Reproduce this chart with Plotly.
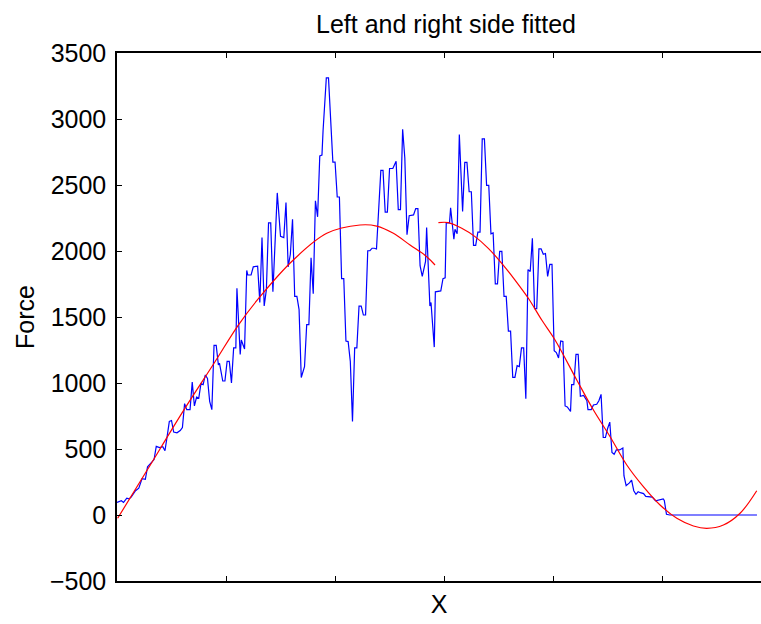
import plotly.graph_objects as go

# Measured force (blue)
force_x = [0, 4, 6, 9, 11, 13, 17, 20, 23, 26, 28, 32, 34, 36, 39, 42, 44, 46, 48, 50,
           52, 55, 58, 60, 62, 64, 67, 69, 71, 73, 75, 77, 79, 81, 83, 85, 87, 89, 91, 93,
           94, 97, 99, 101, 103, 105, 107, 109, 110, 113, 114, 117, 119, 120, 123, 125, 129, 131, 133, 135,
           137, 139, 141, 143, 146, 147, 150, 153, 155, 157, 159, 161, 163, 165, 167, 169, 172, 174, 176, 178,
           180, 182, 184, 186, 188, 189, 192, 194, 198, 200, 202, 204, 206, 208, 210, 212, 214, 216, 218, 220,
           222, 224, 226, 228, 230, 232, 234, 236, 238, 240, 242, 244, 246, 248, 250, 253, 256, 258, 260, 262,
           264, 266, 268, 272, 274, 276, 278, 280, 283, 284, 287, 288, 291, 292, 295, 297, 299, 301, 302, 305,
           306, 309, 310, 312, 314, 317, 319, 321, 323, 325, 327, 329, 331, 333, 335, 337, 339, 341, 343, 345,
           347, 349, 351, 353, 355, 357, 359, 361, 363, 365, 367, 369, 371, 373, 375, 377, 379, 381, 383, 385,
           387, 389, 391, 393, 395, 397, 399, 401, 403, 405, 407, 409, 411, 413, 416, 417, 419, 421, 423, 425,
           428, 431, 432, 435, 437, 440, 442, 444, 446, 448, 450, 452, 454, 456, 458, 461, 464, 465, 467, 470,
           472, 474, 476, 478, 480, 483, 485, 489, 491, 494, 497, 501, 502, 504, 507, 587]
force_y = [95, 108, 95, 127, 122, 135, 184, 203, 276, 271, 365, 406, 420, 520, 510, 517, 487, 595, 709, 716,
           628, 623, 640, 663, 844, 798, 798, 1007, 826, 893, 886, 995, 988, 1061, 1035, 861, 798, 1285, 1285, 1136,
           1150, 1015, 1015, 1164, 1164, 1001, 1266, 1266, 1718, 1217, 1326, 1258, 1853, 1818, 1818, 1880, 1885, 1610, 2102, 1583,
           1705, 2213, 2213, 1691, 2206, 2440, 2111, 2102, 2367, 1880, 1975, 2240, 1656, 1656, 1556, 1042, 1123, 1442, 1442, 1948,
           1677, 2381, 2259, 2720, 2727, 2909, 3311, 3311, 2674, 2674, 2409, 2409, 1791, 1791, 1318, 1314, 1164, 709, 1266, 1266,
           1583, 1583, 1515, 1515, 2002, 2002, 2021, 2021, 2015, 2327, 2611, 2611, 2295, 2295, 2625, 2625, 2679, 2314, 2314, 2922,
           2705, 2124, 2267, 2273, 2321, 2321, 1889, 1808, 1921, 2178, 1583, 1610, 1272, 1691, 1698, 1698, 1791, 1797, 2213, 2213,
           2327, 2089, 2164, 2131, 2882, 2300, 2671, 2671, 2449, 2449, 2043, 2043, 2143, 2143, 2849, 2849, 2497, 2497, 2130, 2137,
           1751, 1751, 1997, 1997, 1656, 1656, 1393, 1393, 1042, 1042, 1131, 1124, 1266, 1266, 880, 1859, 1845, 2097, 1564, 1564,
           2016, 2016, 1975, 1981, 1808, 1899, 1899, 1245, 1231, 1190, 1318, 1314, 826, 819, 785, 988, 988, 1217, 1217, 899,
           906, 866, 798, 798, 833, 839, 866, 914, 587, 587, 655, 704, 474, 460, 493, 493, 508, 298, 222, 243,
           265, 184, 157, 176, 169, 162, 141, 135, 135, 108, 114, 122, 110, 5, 0, 0]

# Left-side fit (red)
left_fit_x = [0.6, 28.7, 59.4, 89.9, 111.3, 131.2, 161.7, 192.4, 222.9, 238.2, 253.5, 268.8, 284.1, 291.7]
left_fit_y = [-25, 354, 770, 1161, 1439, 1654, 1932, 2134, 2197, 2189, 2134, 2045, 1957, 1894]

# Right-side fit (red)
right_fit_x = [294.8, 303.9, 316.2, 328.4, 340.6, 352.9, 365.1, 377.3, 389.6, 401.8, 421.7, 437.0,
               452.3, 467.6, 482.8, 498.1, 513.5, 528.7, 541.0, 556.2, 571.5, 586.8]
right_fit_y = [2215, 2215, 2172, 2109, 2020, 1907, 1780, 1642, 1477, 1326, 1023, 795,
               593, 379, 215, 76, -25, -83, -101, -76, 13, 184]

x_ticks = [0, 100, 200, 300, 400, 500]
y_ticks = [-500, 0, 500, 1000, 1500, 2000, 2500, 3000, 3500]

FONT = "Liberation Sans, Arial, Helvetica, sans-serif"
FS = 25

fig = go.Figure()
fig.add_trace(go.Scatter(x=force_x, y=force_y, mode="lines",
                         line=dict(color="#0000FF", width=1.2), showlegend=False))
fig.add_trace(go.Scatter(x=left_fit_x, y=left_fit_y, mode="lines",
                         line=dict(color="#FF0000", width=1.2, shape="spline"), showlegend=False))
fig.add_trace(go.Scatter(x=right_fit_x, y=right_fit_y, mode="lines",
                         line=dict(color="#FF0000", width=1.2, shape="spline"), showlegend=False))

fig.update_layout(
    width=761, height=624,
    margin=dict(l=117, r=0, t=53, b=43),
    paper_bgcolor="white", plot_bgcolor="white",
    font=dict(family=FONT, color="black", size=FS),
    title=dict(text="Left and right side fitted", x=446 / 761, xanchor="center",
               y=1 - 24 / 624, yanchor="middle", yref="container",
               font=dict(family=FONT, size=FS, color="black")),
)
fig.update_xaxes(range=[0, 590.7], tickvals=x_ticks, showticklabels=False,
                 ticks="inside", ticklen=5, tickwidth=1, tickcolor="black",
                 showline=True, linecolor="black", linewidth=1.5, mirror="ticks",
                 showgrid=False, zeroline=False,
                 title=dict(text="X", font=dict(size=FS), standoff=14))
fig.update_yaxes(range=[-500, 3500], tickvals=y_ticks,
                 ticks="inside", ticklen=5, tickwidth=1, tickcolor="black",
                 showline=True, linecolor="black", linewidth=1.5, mirror=False,
                 showgrid=False, zeroline=False, ticklabelstandoff=4,
                 tickfont=dict(size=FS),
                 title=dict(text="Force", font=dict(size=FS), standoff=8))

fig.write_html("out.html")
